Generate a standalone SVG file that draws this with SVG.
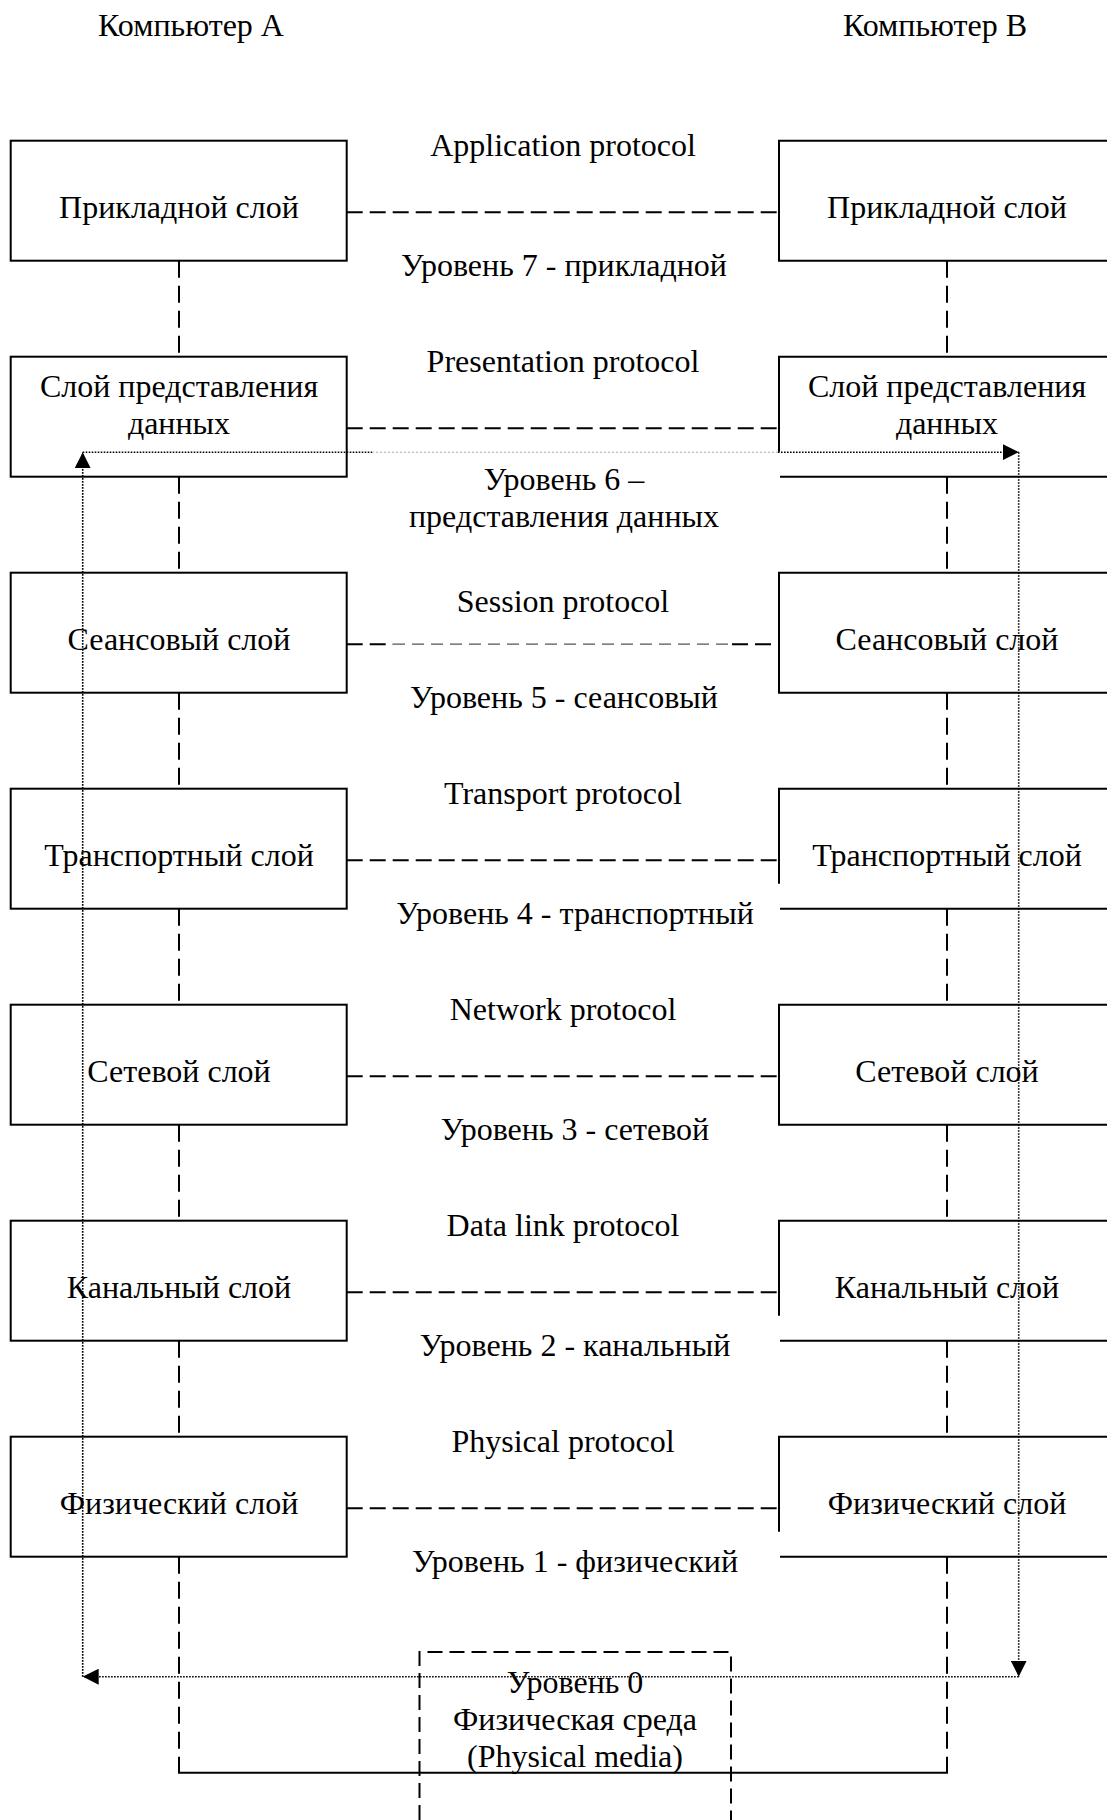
<svg xmlns="http://www.w3.org/2000/svg" width="1107" height="1820" viewBox="0 0 1107 1820">
<defs>
<style>
text{font-family:"Liberation Serif","Times New Roman",serif;font-size:32px;fill:#000;text-anchor:middle}
.bg{fill:#fff;stroke:none}
.box{fill:#fff;stroke:#000;stroke-width:2}
.edge{fill:none;stroke:#000;stroke-width:2}
.dash{fill:none;stroke:#000;stroke-width:2;stroke-dasharray:16 7}
.vdash{fill:none;stroke:#000;stroke-width:2;stroke-dasharray:17 8}
.thin{fill:none;stroke:#555;stroke-width:1.2;stroke-dasharray:12 7}
.dot{fill:none;stroke:#000;stroke-width:1.6;stroke-dasharray:1.6 1.4}
.dotl{fill:none;stroke:#aaa;stroke-width:1;stroke-dasharray:2 2}
.media{fill:none;stroke:#000;stroke-width:2;stroke-dasharray:15 7}
</style>
<marker id="ah" markerWidth="16" markerHeight="16" viewBox="0 0 16 16" refX="16" refY="8" orient="auto" markerUnits="userSpaceOnUse"><path d="M0,0 L16,8 L0,16 z" fill="#000"/></marker>
</defs>
<rect width="1107" height="1820" fill="#fff"/>

<g id="title-a"><text x="191" y="36">Компьютер А</text></g>
<g id="title-b"><text x="935" y="36">Компьютер B</text></g>

<!-- Left stack -->
<g id="a7"><rect class="box" x="10.7" y="140.7" width="336" height="120"/><text x="179" y="218.3">Прикладной слой</text></g>
<g id="a6"><rect class="box" x="10.7" y="356.7" width="336" height="120"/><text x="179" y="396.7">Слой представления</text><text x="179" y="434">данных</text></g>
<g id="a5"><rect class="box" x="10.7" y="572.7" width="336" height="120"/><text x="179" y="650.3">Сеансовый слой</text></g>
<g id="a4"><rect class="box" x="10.7" y="788.7" width="336" height="120"/><text x="179" y="866.3">Транспортный слой</text></g>
<g id="a3"><rect class="box" x="10.7" y="1004.7" width="336" height="120"/><text x="179" y="1082.3">Сетевой слой</text></g>
<g id="a2"><rect class="box" x="10.7" y="1220.7" width="336" height="120"/><text x="179" y="1298.3">Канальный слой</text></g>
<g id="a1"><rect class="box" x="10.7" y="1436.7" width="336" height="120"/><text x="179" y="1514.3">Физический слой</text></g>

<!-- Right stack -->
<g id="b7"><rect class="bg" x="779" y="140.7" width="340" height="120"/><path class="edge" d="M1115,140.7 H779 V260.7 H1115"/><text x="947" y="218.3">Прикладной слой</text></g>
<g id="b6"><rect class="bg" x="779" y="356.7" width="340" height="120"/><path class="edge" d="M1115,356.7 H779 V451.7 M780,476.7 H1115"/><text x="947" y="396.7">Слой представления</text><text x="947" y="434">данных</text></g>
<g id="b5"><rect class="bg" x="779" y="572.7" width="340" height="120"/><path class="edge" d="M1115,572.7 H779 V692.7 H1115"/><text x="947" y="650.3">Сеансовый слой</text></g>
<g id="b4"><rect class="bg" x="779" y="788.7" width="340" height="120"/><path class="edge" d="M1115,788.7 H779 V883.7 M780,908.7 H1115"/><text x="947" y="866.3">Транспортный слой</text></g>
<g id="b3"><rect class="bg" x="779" y="1004.7" width="340" height="120"/><path class="edge" d="M1115,1004.7 H779 V1124.7 H1115"/><text x="947" y="1082.3">Сетевой слой</text></g>
<g id="b2"><rect class="bg" x="779" y="1220.7" width="340" height="120"/><path class="edge" d="M1115,1220.7 H779 V1315.7 M780,1340.7 H1115"/><text x="947" y="1298.3">Канальный слой</text></g>
<g id="b1"><rect class="bg" x="779" y="1436.7" width="340" height="120"/><path class="edge" d="M1115,1436.7 H779 V1531.7 M780,1556.7 H1115"/><text x="947" y="1514.3">Физический слой</text></g>

<!-- Physical media -->
<g id="media">
<path class="media" d="M419.5,1820 V1652 H731 V1820"/>
<text x="575" y="1693">Уровень 0</text>
<text x="575" y="1730">Физическая среда</text>
<text x="575" y="1767">(Physical media)</text>
</g>

<!-- Labels -->
<g id="labels">
<text x="563" y="156">Application protocol</text>
<text x="564" y="276">Уровень 7 - прикладной</text>
<text x="563" y="372">Presentation protocol</text>
<text x="564" y="490">Уровень 6 –</text>
<text x="564" y="527">представления данных</text>
<text x="563" y="612">Session protocol</text>
<text x="564" y="708">Уровень 5 - сеансовый</text>
<text x="563" y="804">Transport protocol</text>
<text x="575" y="924">Уровень 4 - транспортный</text>
<text x="563" y="1020">Network protocol</text>
<text x="575" y="1140">Уровень 3 - сетевой</text>
<text x="563" y="1236">Data link protocol</text>
<text x="575" y="1356">Уровень 2 - канальный</text>
<text x="563" y="1452">Physical protocol</text>
<text x="575" y="1572">Уровень 1 - физический</text>
</g>

<g id="connectors">
<!-- peer protocol lines -->
<path class="dash" d="M346.7,212.2 H779"/>
<path class="dash" d="M346.7,428.2 H779"/>
<path class="dash" d="M346.7,644.2 H393 M732,644.2 H779"/>
<path class="thin" d="M393,644.2 H732"/>
<path class="dash" d="M346.7,860.2 H779"/>
<path class="dash" d="M346.7,1076.2 H779"/>
<path class="dash" d="M346.7,1292.2 H779"/>
<path class="dash" d="M346.7,1508.2 H779"/>
<!-- vertical stack lines -->
<path class="vdash" d="M179,260.7 V356.7 M179,476.7 V572.7 M179,692.7 V788.7 M179,908.7 V1004.7 M179,1124.7 V1220.7 M179,1340.7 V1436.7 M179,1556.7 V1772.7"/>
<path class="vdash" d="M947,260.7 V356.7 M947,476.7 V572.7 M947,692.7 V788.7 M947,908.7 V1004.7 M947,1124.7 V1220.7 M947,1340.7 V1436.7 M947,1556.7 V1772.7"/>
<path class="edge" d="M178,1772.7 H948"/>
<!-- data flow dotted arrows -->
<path class="dot" d="M82.7,452.2 H372"/>
<path class="dotl" d="M372,452.2 H778"/>
<path class="dot" d="M778,452.2 H1018.7" marker-end="url(#ah)"/>
<path class="dot" d="M1018.7,452.2 V1676.7" marker-end="url(#ah)"/>
<path class="dot" d="M1018.7,1676.7 H82.7" marker-end="url(#ah)"/>
<path class="dot" d="M82.7,1676.7 V452.2" marker-end="url(#ah)"/>
</g>
</svg>
